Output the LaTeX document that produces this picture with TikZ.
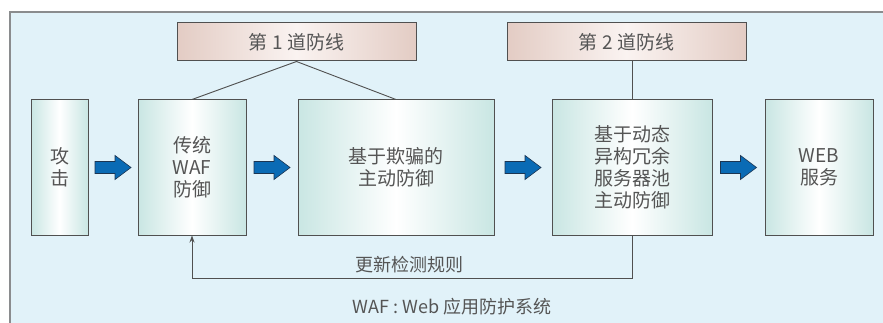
\documentclass[tikz,border=0pt]{standalone}
\usepackage{fontspec}
\setmainfont{Noto Sans CJK SC}
\usetikzlibrary{calc,arrows.meta}
\definecolor{bgc}{HTML}{E1F2F9}
\definecolor{framec}{HTML}{8A8C8E}
\definecolor{tealc}{HTML}{C9E6E3}
\definecolor{pinkc}{HTML}{E3CCC4}
\definecolor{pinkm}{HTML}{FAF3F1}
\definecolor{txtc}{HTML}{555555}
\definecolor{linec}{HTML}{505050}
\definecolor{arrowblue}{HTML}{0A6BB5}
\definecolor{arrowline}{HTML}{1B3552}
\tikzset{
  boxnode/.style={draw=linec, line width=1pt, inner sep=0pt, align=center,
    left color=tealc, right color=tealc, middle color=white,
    text=txtc, font=\fontsize{19}{22}\selectfont, minimum height=135pt},
  linenode/.style={draw=linec, line width=1pt, inner sep=0pt, align=center,
    left color=pinkc, right color=pinkc, middle color=pinkm,
    text=txtc, font=\fontsize{19}{22}\selectfont, minimum width=239pt, minimum height=38pt},
  conn/.style={draw=linec, line width=0.9pt},
  lbl/.style={text=txtc, font=\fontsize{18}{22}\selectfont, inner sep=0pt},
  barrow/.pic={\draw[fill=arrowblue, draw=arrowline, line width=0.6pt]
    (-18,-6) -- (2,-6) -- (2,-12) -- (18,0) -- (2,12) -- (2,6) -- (-18,6) -- cycle;}
}
\begin{document}
\begin{tikzpicture}[x=1pt,y=-1pt]
\useasboundingbox (0,0) rectangle (883,323);
\fill[bgc] (10,12) rectangle (895,335);
\draw[framec, line width=1.5pt] (10,335) -- (10,12) -- (895,12);

\node[boxnode, minimum width=57pt] (atk) at (59.5,167.5) {攻\\击};
\node[boxnode, minimum width=108pt] (waf) at (192,167.5) {传统\\WAF\\防御};
\node[boxnode, minimum width=196pt] (dec) at (396,167.5) {基于欺骗的\\主动防御};
\node[boxnode, minimum width=160pt] (dyn) at (632,167.5) {基于动态\\异构冗余\\服务器池\\主动防御};
\node[boxnode, minimum width=108pt] (web) at (819,167.5) {WEB\\服务};

\node[linenode] (l1) at (296.5,42) {第 1 道防线};
\node[linenode] (l2) at (626.5,42) {第 2 道防线};

\draw[conn] (waf.north) -- (l1.south) -- (dec.north);
\draw[conn] (dyn.north) -- (dyn.north |- l2.south);

\pic at ($(atk.east)!0.5!(waf.west)$) {barrow};
\pic at ($(waf.east)!0.5!(dec.west)$) {barrow};
\pic at ($(dec.east)!0.5!(dyn.west)$) {barrow};
\pic at ($(dyn.east)!0.5!(web.west)$) {barrow};

\coordinate (fb) at ($(dyn.south)+(0,43)$);
\draw[conn, -{Stealth[length=7pt,width=5pt]}] (dyn.south) -- (fb) -| (waf.south);

\node[lbl] (upd) at (409,265) {更新检测规则};
\node[lbl] (note) at (452,307) {WAF : Web 应用防护系统};
\end{tikzpicture}
\end{document}
